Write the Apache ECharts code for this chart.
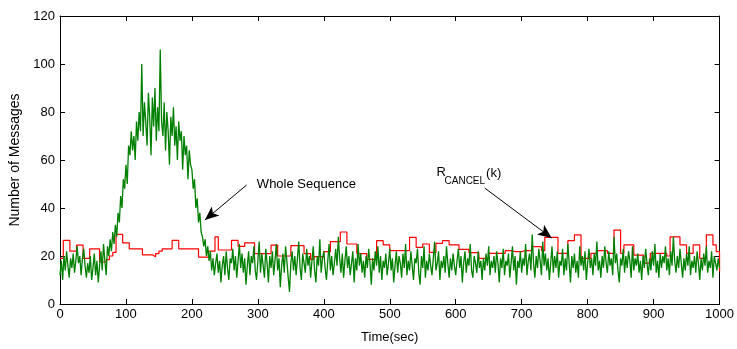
<!DOCTYPE html>
<html>
<head>
<meta charset="utf-8">
<script src="https://cdn.jsdelivr.net/npm/echarts@6/dist/echarts.min.js"></script>
<style>html,body{margin:0;padding:0;background:#fff}#c{width:737px;height:349px}</style>
</head>
<body>
<div id="c"></div>
<script>
// Whole Sequence: one sample every 2 s, from 0 to 1000 s
var greenStep = 2;
var greenValues = [
12,18,10,20,14,22,16,11,19,15,
21,13,18,24,17,20,12,19,23,16,
11,17,13,20,10,15,21,12,18,9,
16,22,14,25,18,12,24,20,27,22,
30,25,33,28,38,34,45,40,52,48,
58,50,66,62,72,64,70,60,76,68,
80,72,100,70,84,76,66,88,78,62,
86,74,90,68,82,72,106,76,70,84,
64,80,72,58,78,70,82,66,74,60,
76,68,72,56,70,62,66,52,64,58,
56,48,52,40,44,34,38,30,28,24,
27,20,24,18,22,14,19,12,17,21,
13,18,9,16,20,12,22,15,10,19,
17,23,14,20,11,18,25,15,21,13,
19,8,16,22,12,20,17,24,14,10,
18,26,13,21,16,11,23,17,9,20,
15,22,12,18,25,14,19,7,16,21,
13,24,18,11,5,17,22,14,20,12,
19,26,15,10,21,17,13,23,16,20,
11,18,24,14,9,20,16,27,13,19,
22,15,10,18,25,14,20,12,17,23,
16,28,19,13,21,11,18,24,15,20,
12,17,22,9,19,14,25,16,21,13,
18,11,20,15,23,17,8,19,14,22,
16,24,13,20,10,18,15,21,12,17,
23,14,19,9,16,22,13,20,17,11,
21,15,25,12,18,14,22,16,10,19,
17,23,13,8,20,15,24,11,18,14,
21,16,12,19,26,14,17,22,10,18,
15,20,13,24,17,11,19,14,21,16,
12,18,23,15,20,9,17,22,13,19,
16,25,14,11,20,17,13,22,15,18,
10,19,14,21,16,24,12,18,15,20,
13,22,17,9,19,15,23,12,18,16,
21,11,17,24,14,20,8,18,15,22,
13,19,16,25,12,18,21,14,29,17,
11,20,15,23,18,12,26,16,21,14,
19,10,17,24,13,20,15,22,11,18,
16,23,12,19,14,25,17,9,20,15,
21,13,18,11,24,16,20,14,22,10,
17,23,15,19,12,21,16,26,14,18,
11,20,15,24,17,13,22,16,19,12,
28,17,21,14,9,19,16,23,13,20,
15,22,18,11,24,14,19,16,21,13,
18,10,20,15,23,17,12,19,14,22,
16,25,13,18,11,21,15,20,17,24,
14,19,12,22,16,28,18,13,20,15,
23,17,11,19,14,21,16,24,12,18,
15,20,13,22,17,10,19,14,21,16,
24,13,18,15,22,11,20,17,14,19,
15
];
// R_CANCEL(k): one value every 5 s (held until the next one)
var redStep = 5;
var redValues = [
19,26.5,26.5,22,22,24.5,24.5,19,19,23,
23,23,17.5,17.5,18.5,20,21.5,29,29,25.5,
25.5,23,23,23,23,20.5,20.5,20.5,19.7,21,
22,23,23,23,26.5,26.5,23,23,23,23,
23,23,19.5,19.5,19.5,22,22,28,22.5,22.5,
22.5,22.5,26.5,26.5,24,24,25.5,25.5,25.5,21,
21,21,21,21,24.5,24.5,20,20,20,20,
24.3,24.3,24.3,24.3,21,21,18.6,19.7,19.7,19.7,
21.8,21.8,26,26,26,30,30,25,25,25,
21,21,21,18.6,18.6,18.6,26.4,26.4,24.6,24.6,
22.2,22.2,22.2,22.2,22.2,22.2,27.8,27.8,23.6,23.6,
25,25,21.5,21.5,25.3,25.3,26.4,26.4,24.6,24.6,
24.6,22.8,22.8,22.8,21.4,21.4,21.4,19,19,19,
21.1,21.1,21.1,21.1,21.1,22.2,22.2,21.8,21.8,21.8,
22.2,22.2,22.2,23.9,23.9,23.9,22.2,27.8,27.8,27.8,
27.8,21.1,21.1,21.1,26.4,26.4,28.8,28.8,19,19,
19,21.1,21.1,22.2,22.2,22.2,21.1,21.1,30.8,30.8,
21.1,24.6,24.6,24.6,20.4,20.4,20.4,17,17,21.1,
21.1,21.1,21.1,21.1,20,28,28,28,24.6,24.6,
21.1,21.1,24.6,24.6,19,19,28.8,28.8,24.6,21.8,
13.5
];
var xTicks = {min: 0, max: 1000, interval: 100};
var yTicks = {min: 0, max: 120, interval: 20};

var greenData = greenValues.map(function (v, i) { return [i * greenStep, v]; });
var redData = redValues.map(function (v, i) { return [i * redStep, v]; });

var font = 'Liberation Sans, Arial, sans-serif';
var chart = echarts.init(document.getElementById('c'), null, {renderer: 'canvas'});

function axisCommon(showLabel) {
  return {
    axisLine: {show: true, onZero: false, lineStyle: {color: '#000', width: 1}},
    axisTick: {show: true, inside: true, length: 5, lineStyle: {color: '#000', width: 1}},
    axisLabel: {show: showLabel, color: '#000', fontSize: 13, fontFamily: font},
    splitLine: {show: false}
  };
}
function plain(v) { return String(v); }

var txt = {color: '#000', fontSize: 13, fontFamily: font};

chart.setOption({
  animation: false,
  backgroundColor: '#fff',
  grid: {left: 60, right: 17, top: 16, bottom: 45, containLabel: false},
  xAxis: [
    Object.assign({type: 'value', position: 'bottom', min: xTicks.min, max: xTicks.max, interval: xTicks.interval,
      name: 'Time(sec)', nameLocation: 'middle', nameGap: 27,
      nameTextStyle: {color: '#000', fontSize: 13, fontFamily: font}}, axisCommon(true),
      {axisLabel: {show: true, color: '#000', fontSize: 13, fontFamily: font, margin: 4, formatter: plain}}),
    Object.assign({type: 'value', position: 'top', min: xTicks.min, max: xTicks.max, interval: xTicks.interval}, axisCommon(false))
  ],
  yAxis: [
    Object.assign({type: 'value', position: 'left', min: yTicks.min, max: yTicks.max, interval: yTicks.interval,
      name: 'Number of Messages', nameLocation: 'middle', nameGap: 33,
      nameTextStyle: {color: '#000', fontSize: 14, fontFamily: font}}, axisCommon(true),
      {axisLabel: {show: true, color: '#000', fontSize: 13, fontFamily: font, margin: 5, formatter: plain}}),
    Object.assign({type: 'value', position: 'right', min: yTicks.min, max: yTicks.max, interval: yTicks.interval}, axisCommon(false))
  ],
  series: [
    {
      name: 'R_CANCEL(k)', type: 'line', step: 'end', data: redData, showSymbol: false, symbol: 'none',
      lineStyle: {color: '#ff0000', width: 1.2}, z: 2, silent: true
    },
    {
      name: 'Whole Sequence', type: 'line', data: greenData, showSymbol: false, symbol: 'none',
      lineStyle: {color: '#008000', width: 1.3}, z: 3, silent: true,
      markLine: {
        silent: true, animation: false,
        symbol: ['none', 'arrow'], symbolSize: [9, 14],
        lineStyle: {color: '#000', width: 1, type: 'solid'},
        label: {show: false},
        emphasis: {disabled: true},
        data: [
          [{coord: [283, 49.6]}, {coord: [219.7, 35]}],
          [{coord: [644, 48.3]}, {coord: [745.5, 27.5]}]
        ]
      },
      markPoint: {
        silent: true, animation: false, symbol: 'circle', symbolSize: 0,
        label: {show: true, position: 'inside', align: 'left', verticalAlign: 'middle', color: '#000', fontFamily: font},
        data: [
          {coord: [298.5, 50], label: Object.assign({formatter: 'Whole Sequence'}, txt)},
          {coord: [571, 54.8], label: Object.assign({formatter: 'R'}, txt)},
          {coord: [583, 51], label: {formatter: 'CANCEL', color: '#000', fontSize: 10, fontFamily: font}},
          {coord: [646, 54.6], label: Object.assign({formatter: '(k)'}, txt)}
        ]
      }
    }
  ]
});
</script>
</body>
</html>
